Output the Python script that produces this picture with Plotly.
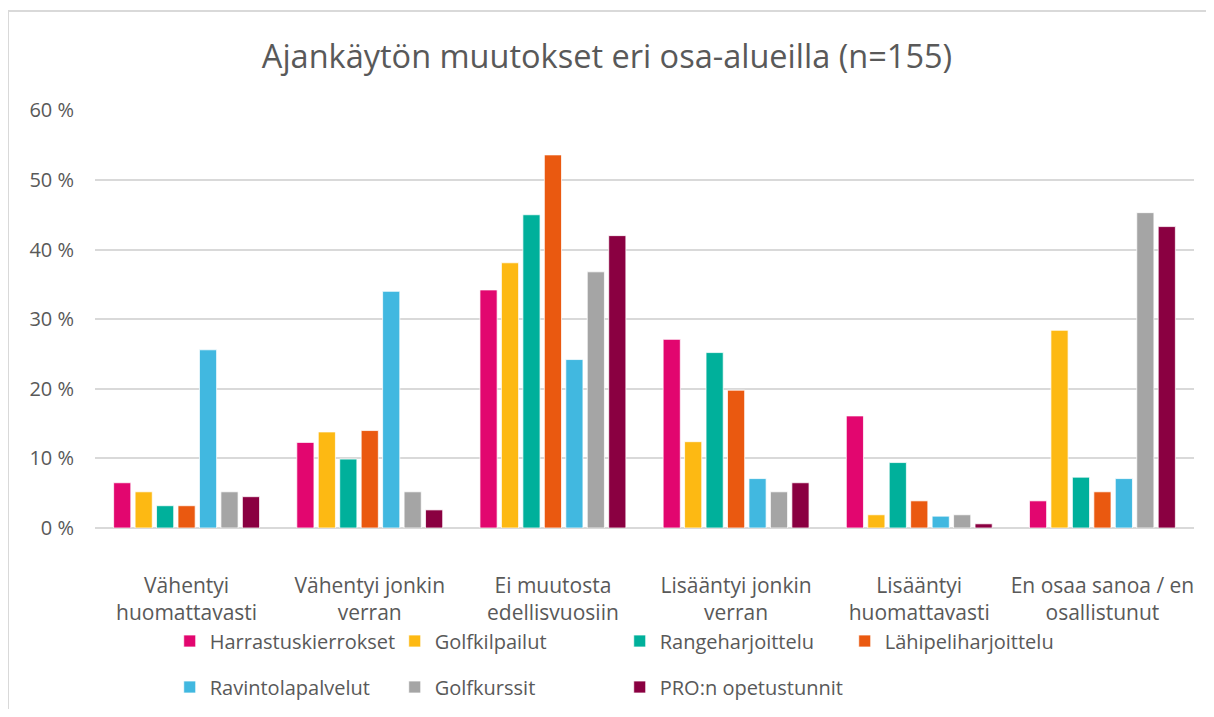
import plotly.graph_objects as go

# Survey answers (n=155), values in percent
categories = [
    "Vähentyi<br>huomattavasti",
    "Vähentyi jonkin<br>verran",
    "Ei muutosta<br>edellisvuosiin",
    "Lisääntyi jonkin<br>verran",
    "Lisääntyi<br>huomattavasti",
    "En osaa sanoa / en<br>osallistunut",
]

harrastuskierrokset = [6.5, 12.3, 34.2, 27.1, 16.1, 3.9]
golfkilpailut = [5.2, 13.8, 38.1, 12.4, 1.9, 28.4]
rangeharjoittelu = [3.2, 9.9, 45.0, 25.2, 9.4, 7.3]
lahipeliharjoittelu = [3.2, 14.0, 53.6, 19.8, 3.9, 5.2]
ravintolapalvelut = [25.6, 34.0, 24.2, 7.1, 1.7, 7.1]
golfkurssit = [5.2, 5.2, 36.8, 5.2, 1.9, 45.3]
pro_opetustunnit = [4.5, 2.6, 42.0, 6.5, 0.6, 43.3]

tick_values = [0, 10, 20, 30, 40, 50, 60]
tick_labels = ["0 %", "10 %", "20 %", "30 %", "40 %", "50 %", "60 %"]

series = [
    ("Harrastuskierrokset", harrastuskierrokset, "#E2066F", "legend"),
    ("Golfkilpailut", golfkilpailut, "#FDB913", "legend"),
    ("Rangeharjoittelu", rangeharjoittelu, "#00B09B", "legend"),
    ("Lähipeliharjoittelu", lahipeliharjoittelu, "#EA5910", "legend"),
    ("Ravintolapalvelut", ravintolapalvelut, "#41B8E0", "legend2"),
    ("Golfkurssit", golfkurssit, "#A5A5A5", "legend2"),
    ("PRO:n opetustunnit", pro_opetustunnit, "#8A0041", "legend2"),
]

FONT = "Open Sans"
TXT = "#595959"
W, H = 1198, 701          # page body has an 8px margin
L, R, T, B = 87, 12, 102, 181
PW, PH = W - L - R, H - T - B

fig = go.Figure()
for name, vals, color, leg in series:
    fig.add_trace(go.Bar(
        x=categories, y=vals, name=name, legend=leg,
        marker=dict(color=color, line=dict(color="white", width=0.75)),
    ))

legend_common = dict(
    orientation="h", xanchor="left", yanchor="middle",
    xref="container", yref="container",
    entrywidth=180, entrywidthmode="pixels",
    font=dict(family=FONT, size=20, color=TXT),
    bgcolor="rgba(0,0,0,0)", itemclick=False,
)

fig.update_layout(
    width=W, height=H,
    margin=dict(l=L, r=R, t=T, b=B, autoexpand=False),
    paper_bgcolor="white", plot_bgcolor="white",
    font=dict(family=FONT, color=TXT),
    title=dict(text="Ajankäytön muutokset eri osa-alueilla (n=155)",
               x=0.5, xanchor="center", y=0.93, yanchor="middle",
               font=dict(family=FONT, size=32.5, color=TXT)),
    barmode="group", bargap=0.18, bargroupgap=0.2,
    showlegend=True,
    legend=dict(x=0.135, y=1 - 633 / H, **legend_common),
    legend2=dict(x=0.135, y=1 - 679 / H, **legend_common),
    xaxis=dict(tickfont=dict(family=FONT, size=21, color=TXT),
               showline=False, ticks="", ticklabelstandoff=43, automargin=False),
    yaxis=dict(range=[0, 60.05], tickmode="array",
               tickvals=tick_values, ticktext=tick_labels,
               tickfont=dict(family=FONT, size=20, color=TXT),
               showgrid=True, gridcolor="#D9D9D9", gridwidth=1.5,
               zeroline=True, zerolinecolor="#D9D9D9", zerolinewidth=1.5,
               ticklabelstandoff=20, automargin=False),
    shapes=[
        # outer chart frame (top and left edges visible)
        dict(type="line", xref="paper", yref="paper",
             x0=(0 - L) / PW, x1=1.05, y0=(PH + T - 3) / PH, y1=(PH + T - 3) / PH,
             line=dict(color="#D9D9D9", width=2)),
        dict(type="line", xref="paper", yref="paper",
             x0=(0 - L) / PW, x1=(0 - L) / PW, y0=(PH + T - 3) / PH, y1=-0.5,
             line=dict(color="#D9D9D9", width=2)),
    ],
)

fig.write_html("out.html")
